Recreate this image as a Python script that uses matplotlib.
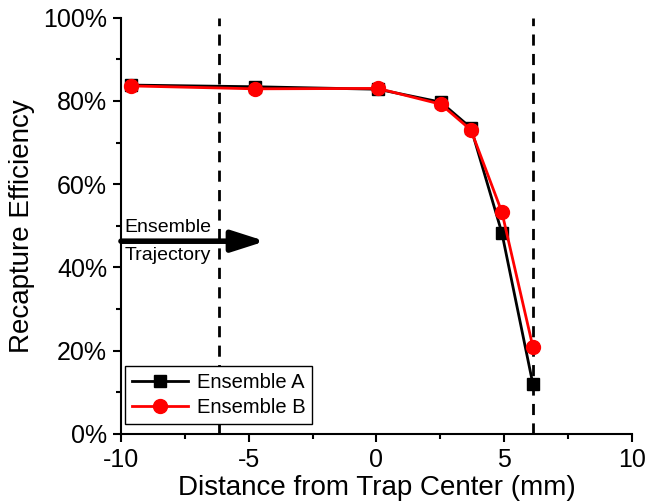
import matplotlib.pyplot as plt

plt.rcParams['font.family'] = ['Liberation Sans', 'DejaVu Sans']
plt.rcParams['axes.unicode_minus'] = False

# Data
distance = [-9.6, -4.75, 0.06, 2.52, 3.7, 4.91, 6.12]
ensemble_a = [83.8, 83.4, 82.8, 79.7, 73.5, 48.3, 12.1]
ensemble_b = [83.6, 82.9, 83.0, 79.2, 73.0, 53.3, 21.0]
boundaries = [-6.16, 6.12]
arrow_start, arrow_end, arrow_y = -10.0, -4.35, 46.3

fig = plt.figure(figsize=(6.61, 5.04), dpi=100)
ax = fig.add_axes([0.183, 0.139, 0.773, 0.826])

# Trap boundaries
for b in boundaries:
    ax.axvline(b, color='black', linestyle=(0, (4, 3)), linewidth=2, zorder=1)

ax.plot(distance, ensemble_a, color='black', marker='s', markersize=9,
        linewidth=2, label='Ensemble A', zorder=3)
ax.plot(distance, ensemble_b, color='red', marker='o', markersize=10,
        linewidth=2, label='Ensemble B', zorder=4)

# Trajectory arrow and labels
ax.annotate('', xy=(arrow_end, arrow_y), xytext=(arrow_start, arrow_y),
            arrowprops=dict(arrowstyle='-|>,head_length=1.0,head_width=0.32',
                            mutation_scale=20, color='black', linewidth=4,
                            shrinkA=0, shrinkB=0),
            zorder=5)
ax.text(-9.85, arrow_y + 1.3, 'Ensemble', fontsize=14, ha='left', va='bottom')
ax.text(-9.85, arrow_y - 1.3, 'Trajectory', fontsize=14, ha='left', va='top')

ax.set_xlim(-10, 10)
ax.set_ylim(0, 100)
ax.set_xticks([-10, -5, 0, 5, 10])
ax.set_xticks([-7.5, -2.5, 2.5, 7.5], minor=True)
ax.set_yticks([0, 20, 40, 60, 80, 100])
ax.set_yticklabels(['0%', '20%', '40%', '60%', '80%', '100%'])
ax.set_yticks([10, 30, 50, 70, 90], minor=True)

ax.spines['top'].set_visible(False)
ax.spines['right'].set_visible(False)
for s in ['left', 'bottom']:
    ax.spines[s].set_linewidth(1.5)
ax.tick_params(which='major', direction='out', length=6, width=1.5, labelsize=18, pad=4)
ax.tick_params(which='minor', direction='out', length=3.5, width=1.5)

ax.set_xlabel('Distance from Trap Center (mm)', fontsize=20, labelpad=2)
ax.set_ylabel('Recapture Efficiency', fontsize=20, labelpad=6)

leg = ax.legend(loc='lower left', bbox_to_anchor=(0.008, 0.024), fontsize=14.5,
                fancybox=False, edgecolor='black', framealpha=1,
                handlelength=2.8, borderpad=0.35, labelspacing=0.3,
                handletextpad=0.4, borderaxespad=0)
leg.get_frame().set_linewidth(1.0)

fig.savefig('out.png', dpi=100)
